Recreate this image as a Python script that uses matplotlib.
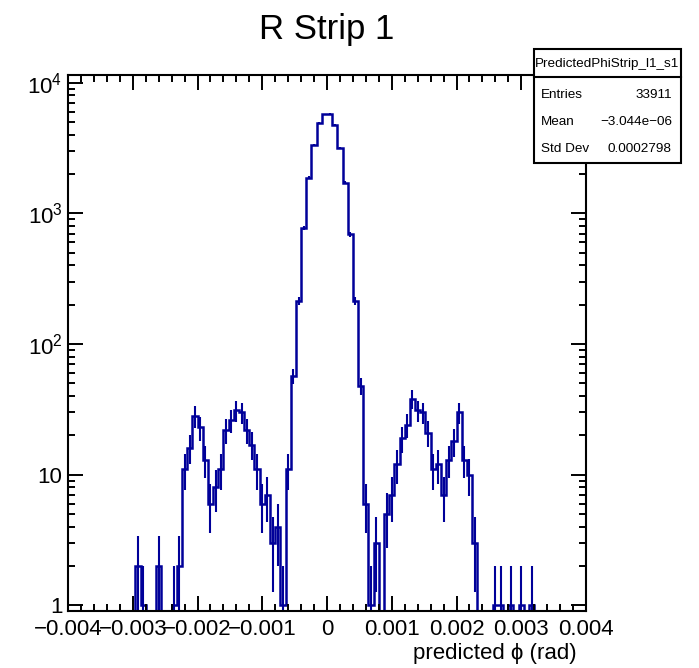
import matplotlib
matplotlib.use('Agg')
import matplotlib.pyplot as plt
import numpy as np
from matplotlib.patches import Rectangle
from matplotlib.lines import Line2D
from matplotlib.ticker import FixedLocator, FixedFormatter, LogLocator, NullFormatter, MultipleLocator

plt.rcParams['font.family'] = ['Liberation Sans', 'DejaVu Sans']
plt.rcParams['mathtext.fontset'] = 'custom'
plt.rcParams['mathtext.rm'] = 'Liberation Sans'

# histogram: 100 bins from -0.004 to 0.004 rad
x_min, x_max, n_bins = -0.004, 0.004, 100
counts = [
    0, 0, 0, 0, 0, 0, 0, 0, 0, 0,
    0, 0, 0, 2, 1, 0, 0, 2, 0, 0,
    1, 2, 11, 16, 28, 23, 13, 6, 8, 11,
    22, 26, 31, 30, 22, 17, 11, 6, 7, 3,
    4, 1, 11, 57, 214, 772, 1870, 3310, 4940, 5720,
    5790, 4720, 3180, 1715, 690, 214, 48, 6, 1, 3,
    0, 5, 7, 12, 19, 24, 38, 31, 30, 21,
    11, 12, 7, 13, 18, 30, 13, 10, 3, 0,
    0, 0, 1, 1, 0, 1, 0, 1, 0, 1,
    0, 0, 0, 0, 0, 0, 0, 0, 0, 0,
]

xtick_vals = [-0.004, -0.003, -0.002, -0.001, 0, 0.001, 0.002, 0.003, 0.004]
xtick_labels = ['\u22120.004', '\u22120.003', '\u22120.002', '\u22120.001', '0',
                '0.001', '0.002', '0.003', '0.004']
ytick_vals = [1, 10, 100, 1000, 10000]
ytick_labels = ['1', '10', '$10^{2}$', '$10^{3}$', '$10^{4}$']

stats_name = 'PredictedPhiStrip_l1_s1'
stats_rows = [('Entries', '33911'),
              ('Mean', '\u22123.044e\u221206'),
              ('Std Dev', '0.0002798')]

W, H = 699, 668
def fx(x): return x / W
def fy(y): return 1 - y / H

fig = plt.figure(figsize=(W / 100, H / 100), dpi=100)
ax = fig.add_axes([fx(68), fy(611), 518 / W, 536 / H])

blue = '#000099'
vals = np.array(counts, dtype=float)
edges = np.linspace(x_min, x_max, n_bins + 1)
centers = 0.5 * (edges[:-1] + edges[1:])

# empty bins drop to the bottom of the frame like ROOT does on log scale
draw = np.where(vals > 0, vals, 1e-3)
ax.stairs(draw, edges, color=blue, lw=1.8, baseline=None)

nz = vals > 0
err = np.sqrt(vals[nz])
ax.vlines(centers[nz], np.maximum(vals[nz] - err, 1e-3), vals[nz] + err,
          color=blue, lw=1.5)

ax.set_yscale('log')
ax.set_xlim(x_min, x_max)
ax.set_ylim(0.906, 11430)

ax.xaxis.set_major_locator(FixedLocator(xtick_vals))
ax.xaxis.set_major_formatter(FixedFormatter(xtick_labels))
ax.xaxis.set_minor_locator(MultipleLocator(0.0002))
ax.yaxis.set_major_locator(FixedLocator(ytick_vals))
ax.yaxis.set_major_formatter(FixedFormatter(ytick_labels))
ax.yaxis.set_minor_locator(LogLocator(base=10, subs=np.arange(2, 10)))
ax.yaxis.set_minor_formatter(NullFormatter())

ax.tick_params(which='both', direction='in', top=True, right=True, width=1.4,
               labelsize=16)
ax.tick_params(which='major', length=10.5)
ax.tick_params(which='minor', length=5)
ax.tick_params(axis='x', pad=6)
ax.tick_params(axis='y', pad=4)
for s in ax.spines.values():
    s.set_linewidth(1.5)

fig.text(fx(577), fy(653), 'predicted \u03d5 (rad)', ha='right', va='center', fontsize=16)
fig.text(fx(327), fy(30), 'R Strip 1', ha='center', va='center', fontsize=25)

# stats box
bl, br, bt, bb, bsep = 534, 681, 49, 163, 77
fig.add_artist(Rectangle((fx(bl), fy(bb)), (br - bl) / W, (bb - bt) / H,
                         transform=fig.transFigure, facecolor='white',
                         edgecolor='black', lw=1.5, zorder=5))
fig.add_artist(Line2D([fx(bl), fx(br)], [fy(bsep), fy(bsep)],
                      transform=fig.transFigure, color='black', lw=1.5, zorder=6))
fig.text(fx((bl + br) / 2), fy(64), stats_name, ha='center', va='center',
         fontsize=9.7, zorder=7)
for i, (name, value) in enumerate(stats_rows):
    yy = fy(95 + i * 27)
    fig.text(fx(541), yy, name, ha='left', va='center', fontsize=9.7, zorder=7)
    fig.text(fx(672), yy, value, ha='right', va='center', fontsize=9.7, zorder=7)

fig.savefig('out.png', dpi=100)
